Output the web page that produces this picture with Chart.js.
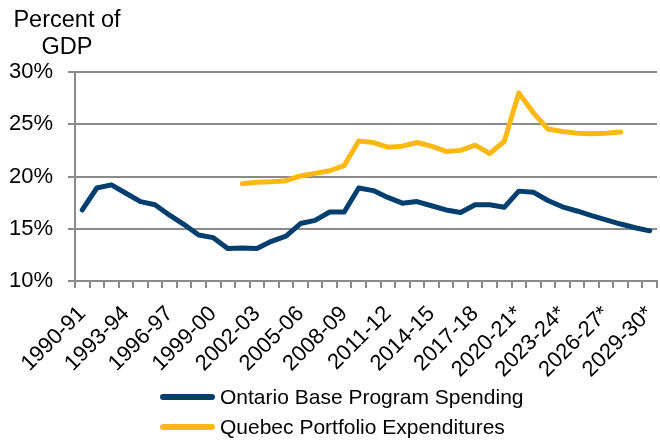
<!DOCTYPE html>
<html>
<head>
<meta charset="utf-8">
<script src="https://cdn.jsdelivr.net/npm/chart.js@4"></script>
<style>
  html, body { margin: 0; padding: 0; background: #ffffff; }
  #wrap { width: 660px; height: 442px; position: relative; }
</style>
</head>
<body>
<div id="wrap"><canvas id="chart"></canvas></div>
<script>
// Fiscal years (projections marked with *)
const fiscalYears = [
  '1990-91','1991-92','1992-93','1993-94','1994-95','1995-96','1996-97','1997-98',
  '1998-99','1999-00','2000-01','2001-02','2002-03','2003-04','2004-05','2005-06',
  '2006-07','2007-08','2008-09','2009-10','2010-11','2011-12','2012-13','2013-14',
  '2014-15','2015-16','2016-17','2017-18','2018-19','2019-20','2020-21*','2021-22*',
  '2022-23*','2023-24*','2024-25*','2025-26*','2026-27*','2027-28*','2028-29*','2029-30*'
];

// Spending as a percent of GDP
const ontarioSpending = [
  16.8, 18.9, 19.2, 18.4, 17.6, 17.3, 16.3, 15.4, 14.4, 14.15,
  13.1, 13.15, 13.1, 13.8, 14.3, 15.5, 15.8, 16.6, 16.6, 18.9,
  18.65, 18.0, 17.45, 17.6, 17.2, 16.8, 16.55, 17.3, 17.3, 17.05,
  18.6, 18.5, 17.7, 17.1, 16.7, 16.25, 15.85, 15.45, 15.1, 14.8
];

const quebecExpenditures = [
  null, null, null, null, null, null, null, null, null, null,
  null, 19.3, 19.45, 19.5, 19.6, 20.05, 20.3, 20.55, 21.05, 23.4,
  23.25, 22.8, 22.9, 23.25, 22.9, 22.4, 22.5, 23.0, 22.2, 23.35,
  28.0, 26.1, 24.55, 24.3, 24.15, 24.1, 24.15, 24.25, null, null
];

const yTickValues = [10, 15, 20, 25, 30];
const yTitleLines = ['Percent of', 'GDP'];
const seriesNames = ['Ontario Base Program Spending', 'Quebec Portfolio Expenditures'];

const FONT = "'Liberation Sans', Arial, sans-serif";
const NAVY = '#023f6e';
const GOLD = '#fdb813';
const GRID = '#8a8a8a';

// Horizontal axis title above the value axis
const yTitlePlugin = {
  id: 'yTitle',
  afterDraw(chart) {
    const { ctx, chartArea } = chart;
    ctx.save();
    ctx.font = '23.5px ' + FONT;
    ctx.fillStyle = '#000';
    ctx.textAlign = 'center';
    ctx.textBaseline = 'middle';
    const cx = chartArea.left - 8;
    yTitleLines.forEach((line, i) => {
      ctx.fillText(line, cx, 21 + i * 27);
    });
    ctx.restore();
  }
};

// Stacked legend below the axis, one series per row
const stackedLegendPlugin = {
  id: 'stackedLegend',
  afterDraw(chart) {
    const { ctx } = chart;
    const x0 = 163, x1 = 212, textX = 220;
    const firstRow = chart.height - 45, rowGap = 30;
    ctx.save();
    ctx.font = '21px ' + FONT;
    ctx.textAlign = 'left';
    ctx.textBaseline = 'middle';
    chart.data.datasets.forEach((ds, i) => {
      const y = firstRow + i * rowGap;
      ctx.strokeStyle = ds.borderColor;
      ctx.lineWidth = 6;
      ctx.lineCap = 'round';
      ctx.beginPath();
      ctx.moveTo(x0, y);
      ctx.lineTo(x1, y);
      ctx.stroke();
      ctx.fillStyle = '#000';
      ctx.fillText(ds.label, textX, y + 1);
    });
    ctx.restore();
  }
};

new Chart(document.getElementById('chart'), {
  type: 'line',
  data: {
    labels: fiscalYears,
    datasets: [
      {
        label: seriesNames[0],
        data: ontarioSpending,
        borderColor: NAVY,
        backgroundColor: NAVY,
        borderWidth: 5,
        pointRadius: 0,
        tension: 0,
        borderJoinStyle: 'round',
        borderCapStyle: 'round'
      },
      {
        label: seriesNames[1],
        data: quebecExpenditures,
        borderColor: GOLD,
        backgroundColor: GOLD,
        borderWidth: 5,
        pointRadius: 0,
        tension: 0,
        spanGaps: false,
        borderJoinStyle: 'round',
        borderCapStyle: 'round'
      }
    ]
  },
  options: {
    responsive: true,
    maintainAspectRatio: false,
    animation: false,
    layout: { padding: { top: 72, right: 3, left: 0, bottom: 60 } },
    plugins: {
      legend: { display: false },
      tooltip: { enabled: false }
    },
    scales: {
      x: {
        offset: true,
        grid: {
          offset: true,
          drawOnChartArea: false,
          drawTicks: true,
          tickLength: 7,
          color: GRID,
          lineWidth: 2
        },
        border: { color: GRID, width: 2 },
        ticks: {
          autoSkip: false,
          maxRotation: 45,
          minRotation: 45,
          color: '#000',
          padding: 13,
          font: { family: FONT, size: 22 },
          callback: function (value, index) {
            return index % 3 === 0 ? fiscalYears[index] : '';
          }
        },
        afterFit(scale) {
          scale.height = 101;
          // rotated labels hang to the lower left, so no side padding is needed
          scale.paddingLeft = 0;
          scale.paddingRight = 0;
        }
      },
      y: {
        min: 10,
        max: 30,
        afterBuildTicks(scale) {
          scale.ticks = yTickValues.map(v => ({ value: v }));
        },
        grid: {
          color: GRID,
          lineWidth: 2,
          drawTicks: true,
          tickLength: 7
        },
        border: { color: GRID, width: 2 },
        ticks: {
          color: '#000',
          padding: 15,
          font: { family: FONT, size: 22 },
          callback: v => v + '%'
        },
        afterFit(scale) { scale.width = 75; }
      }
    }
  },
  plugins: [yTitlePlugin, stackedLegendPlugin]
});
</script>
</body>
</html>
